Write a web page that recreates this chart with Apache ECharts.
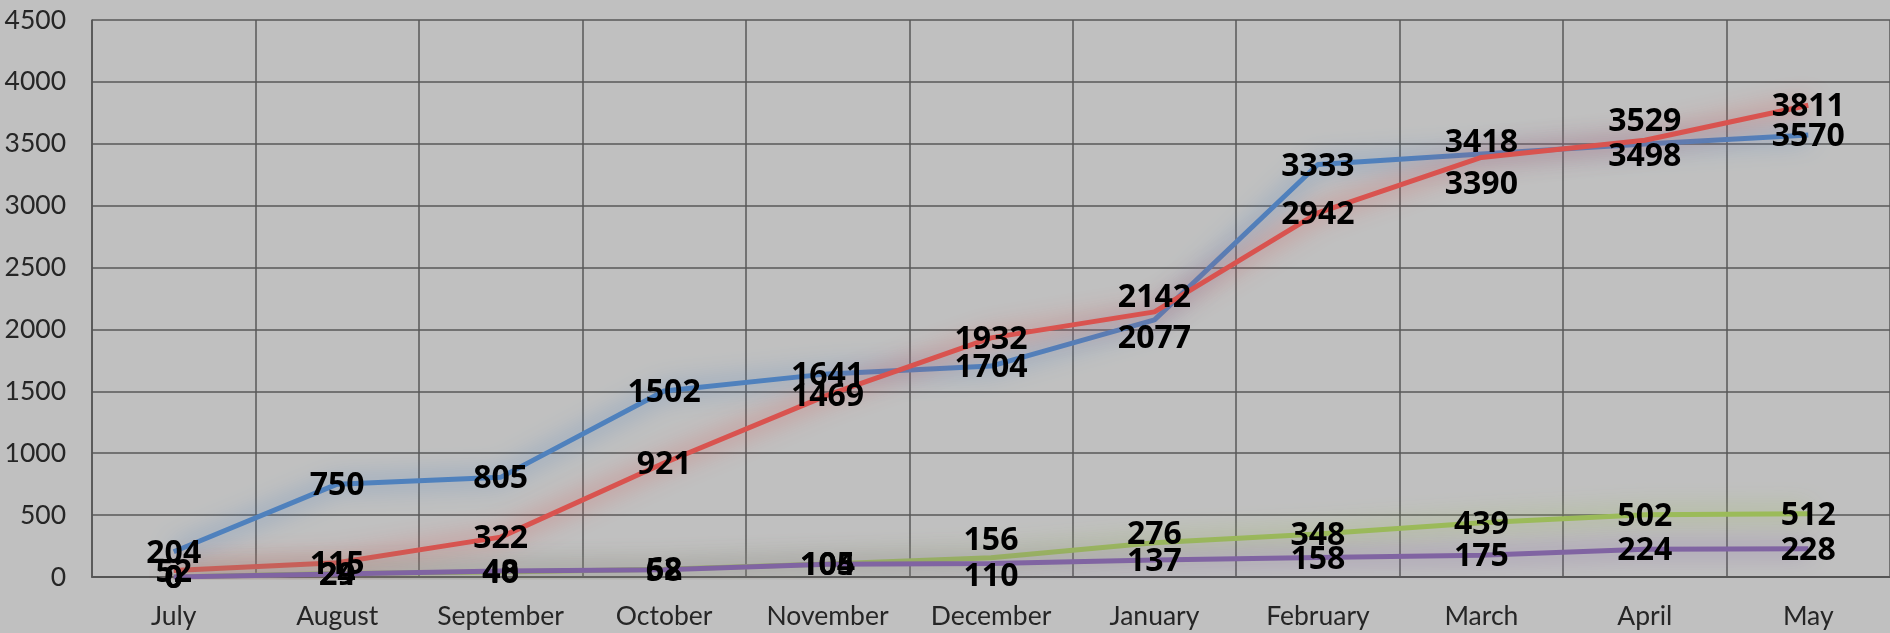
<!DOCTYPE html>
<html>
<head>
<meta charset="utf-8">
<script src="https://cdn.jsdelivr.net/npm/echarts@6/dist/echarts.min.js"></script>
<style>
html,body{margin:0;padding:0;background:#c0c0c0;}
#chart{width:1890px;height:633px;}
</style>
</head>
<body>
<div id="chart"></div>
<script>
const categories = ['July','August','September','October','November','December','January','February','March','April','May'];
const seriesBlue   = [204, 750, 805, 1502, 1641, 1704, 2077, 3333, 3418, 3498, 3570];
const seriesRed    = [52, 115, 322, 921, 1469, 1932, 2142, 2942, 3390, 3529, 3811];
const seriesGreen  = [0, 29, 40, 62, 105, 156, 276, 348, 439, 502, 512];
const seriesPurple = [0, 24, 48, 58, 104, 110, 137, 158, 175, 224, 228];
const yTicks = [0, 500, 1000, 1500, 2000, 2500, 3000, 3500, 4000, 4500];

// label vertical nudges (px), styling only
const labelShift = {
  blue:   {6: 17, 8: -13, 9: 11},
  red:    {6: -16, 8: 25, 9: -20},
  green:  {5: -19, 6: -10},
  purple: {5: 12}
};

function build(name, values, color, shiftKey) {
  const shifts = labelShift[shiftKey] || {};
  return {
    name: name,
    type: 'line',
    data: values,
    symbol: 'circle',
    symbolSize: 2,
    showSymbol: true,
    smooth: false,
    lineStyle: {
      color: color,
      width: 5,
      shadowColor: color,
      shadowBlur: 24
    },
    itemStyle: { color: 'rgba(0,0,0,0)', borderWidth: 0 },
    label: {
      show: true,
      position: 'inside',
      color: '#000',
      fontFamily: 'Noto Sans',
      fontWeight: 'bold',
      fontSize: 32
    },
    labelLayout: function (p) {
      return { dy: (shifts[p.dataIndex] || 0) + 2, hideOverlap: false };
    },
    emphasis: { disabled: true },
    z: 2
  };
}

const chart = echarts.init(document.getElementById('chart'), null, {renderer: 'canvas'});
chart.setOption({
  backgroundColor: '#c0c0c0',
  animation: false,
  grid: { left: 92, top: 20, width: 1802, height: 557, containLabel: false },
  xAxis: {
    type: 'category',
    data: categories,
    boundaryGap: true,
    axisLine: { show: true, lineStyle: { color: '#555', width: 2 } },
    axisTick: { show: false },
    splitLine: { show: true, interval: 0, lineStyle: { color: '#585858', width: 1.5 } },
    axisLabel: { interval: 0, color: '#262626', fontFamily: 'Lato', fontSize: 26.5, margin: 26 }
  },
  yAxis: {
    type: 'value',
    min: yTicks[0],
    max: yTicks[yTicks.length - 1],
    interval: yTicks[1] - yTicks[0],
    axisLine: { show: true, lineStyle: { color: '#555', width: 1.5 } },
    axisTick: { show: false },
    splitLine: { show: true, lineStyle: { color: '#585858', width: 1.5 } },
    axisLabel: { color: '#262626', fontFamily: 'Lato', fontSize: 26.5, margin: 26, formatter: v => String(v) }
  },
  series: [
    build('Series1', seriesBlue, '#4f81bd', 'blue'),
    build('Series2', seriesRed, '#d9534f', 'red'),
    build('Series3', seriesGreen, '#9bbb59', 'green'),
    build('Series4', seriesPurple, '#8064a2', 'purple')
  ]
});
</script>
</body>
</html>
